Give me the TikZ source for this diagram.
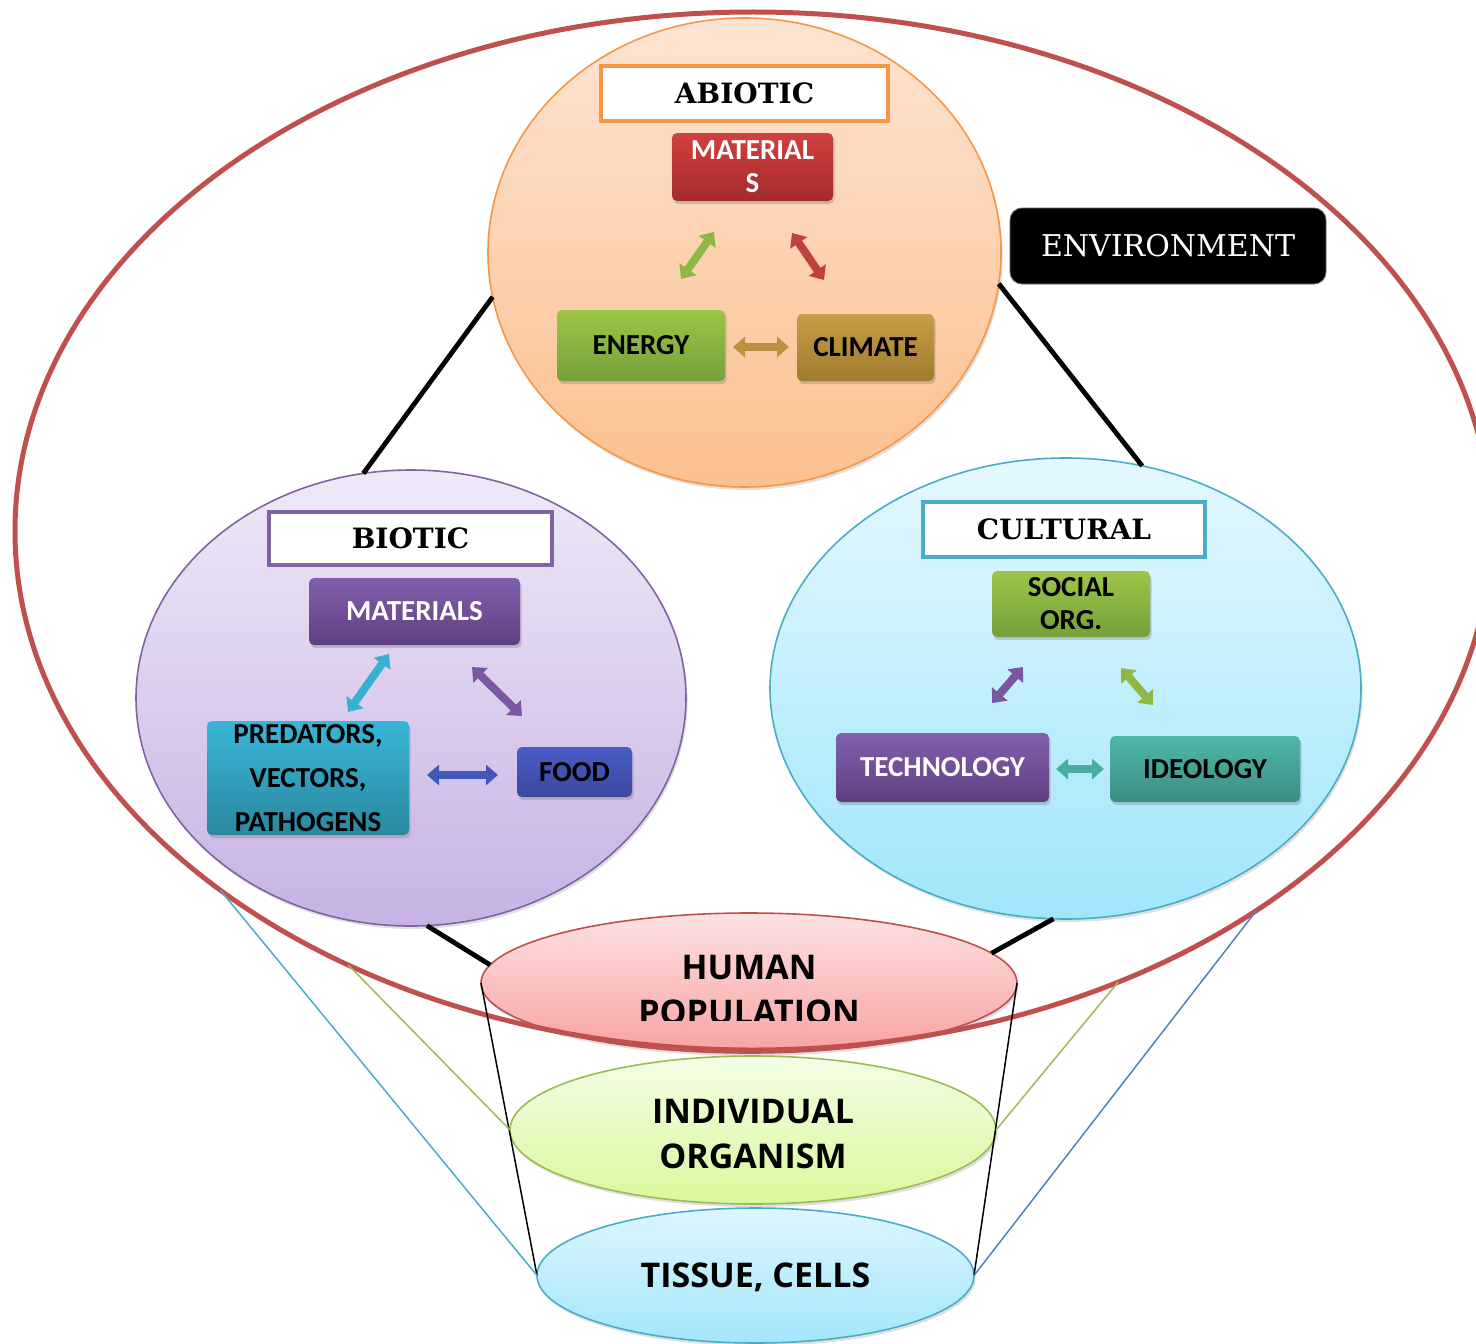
\documentclass[tikz,border=0pt]{standalone}
\usepackage{fontspec}
\setmainfont{Carlito}
\newfontfamily\slabfont{DejaVu Serif}
\newfontfamily\ellfont{Open Sans}
\usetikzlibrary{shapes.geometric,arrows.meta,shadows}

\definecolor{envred}{HTML}{C0504D}
\definecolor{abioborder}{HTML}{F79646}
\definecolor{abiotop}{HTML}{FDE4D2}
\definecolor{abiobot}{HTML}{FCC08E}
\definecolor{bioborder}{HTML}{8064A2}
\definecolor{biotop}{HTML}{EFE9F7}
\definecolor{biobot}{HTML}{C6B2E4}
\definecolor{culborder}{HTML}{4BACC6}
\definecolor{cultop}{HTML}{E4F8FE}
\definecolor{culbot}{HTML}{A0E6FB}
\definecolor{humtop}{HTML}{FDE2E2}
\definecolor{humbot}{HTML}{F9A2A2}
\definecolor{indborder}{HTML}{9BBB59}
\definecolor{indtop}{HTML}{F4FDE6}
\definecolor{indbot}{HTML}{D8F99A}
\definecolor{tistop}{HTML}{DDF6FE}
\definecolor{tisbot}{HTML}{A3E6FB}
\definecolor{redtop}{HTML}{D2403E}
\definecolor{redbot}{HTML}{A22C2B}
\definecolor{grntop}{HTML}{9DC548}
\definecolor{grnbot}{HTML}{76A03A}
\definecolor{goldtop}{HTML}{C89D45}
\definecolor{goldbot}{HTML}{9F7B30}
\definecolor{purtop}{HTML}{8060AC}
\definecolor{purbot}{HTML}{603F80}
\definecolor{cyantop}{HTML}{38B6D8}
\definecolor{cyanbot}{HTML}{2A889F}
\definecolor{bluetop}{HTML}{4A5CC4}
\definecolor{bluebot}{HTML}{3A499E}
\definecolor{tealtop}{HTML}{4EB8A8}
\definecolor{tealbot}{HTML}{3C8E82}
\definecolor{arrgreen}{HTML}{8DB843}
\definecolor{arrred}{HTML}{C0403E}
\definecolor{arrgold}{HTML}{B8923E}
\definecolor{arrcyan}{HTML}{38B0D0}
\definecolor{arrpurple}{HTML}{7A58A0}
\definecolor{arrblue}{HTML}{4258B8}
\definecolor{arrteal}{HTML}{4AADA0}
\definecolor{lineblue}{HTML}{4F81BD}

\begin{document}
\begin{tikzpicture}[x=0.5pt,y=-0.5pt,
  bigell/.style={ellipse, inner sep=0pt, outer sep=0pt, draw, line width=0.8pt,
    drop shadow={opacity=0.25, shadow xshift=0.8pt, shadow yshift=-1.5pt}},
  hdrbox/.style={draw, fill=white, line width=1.8pt, inner sep=0pt,
    font=\slabfont\bfseries\fontsize{14}{16}\selectfont},
  itembox/.style={rounded corners=2.5pt, inner sep=0pt, align=center,
    font=\bfseries\fontsize{14.5}{16.5}\selectfont,
    drop shadow={opacity=0.35, shadow xshift=0.8pt, shadow yshift=-1.6pt}},
  dblarrow/.style={line width=4pt,
    {Triangle[width=10pt,length=6pt]}-{Triangle[width=10pt,length=6pt]}},
  link/.style={line width=2.4pt, black},
  thin/.style={line width=0.75pt},
  elltext/.style={align=center, font=\ellfont\bfseries\fontsize{17}{22.5}\selectfont}
]
\useasboundingbox (0,0) rectangle (1476,1343);

% three big circles
\node[bigell, draw=abioborder, top color=abiotop, bottom color=abiobot,
  minimum width=256.5pt, minimum height=234.5pt] (abiotic) at (744.5,252.5) {};
\node[bigell, draw=bioborder, top color=biotop, bottom color=biobot,
  minimum width=275pt, minimum height=228pt] (biotic) at (411,698) {};
\node[bigell, draw=culborder, top color=cultop, bottom color=culbot,
  minimum width=295.5pt, minimum height=230.5pt] (cultural) at (1065.5,688.5) {};

% lower nested ellipses
\node[bigell, draw=envred, top color=humtop, bottom color=humbot,
  minimum width=268pt, minimum height=70pt] (human) at (749,983) {};
\node[bigell, draw=indborder, top color=indtop, bottom color=indbot,
  minimum width=243pt, minimum height=74pt] (indiv) at (753,1130) {};
\node[bigell, draw=culborder, top color=tistop, bottom color=tisbot,
  minimum width=218.5pt, minimum height=67.5pt] (tissue) at (755.5,1275.5) {};

% environment ellipse
\node[ellipse, draw=envred, line width=2.5pt, inner sep=0pt, outer sep=0pt,
  minimum width=738pt, minimum height=519pt] (env) at (753,531) {};

% black connectors
\draw[link] (abiotic.190) -- (biotic.102);
\draw[link] (abiotic.353) -- (cultural.71);
\draw[link] (biotic.274) -- (human.176);
\draw[link] (cultural.267) -- (human.7);

% funnel lines
\draw[thin] (human.west) -- (tissue.west);
\draw[thin] (human.east) -- (tissue.east);
\draw[thin, draw=indborder] (env.227) -- (indiv.west);
\draw[thin, draw=indborder] (env.309) -- (indiv.east);
\draw[thin, draw=culborder] (env.214) -- (tissue.west);
\draw[thin, draw=lineblue] (env.323) -- (tissue.east);

% ellipse texts
\begin{scope}
  \clip (400,900) rectangle (1100,1020);
  \node[elltext] (humantext) at (749,990) {HUMAN\\POPULATION};
\end{scope}
\node[elltext] (indivtext) at (753,1134) {INDIVIDUAL\\ORGANISM};
\node[elltext] (tissuetext) at (755.5,1277) {TISSUE, CELLS};

% ENVIRONMENT label
\node[fill=black, draw=black!60, rounded corners=6pt, inner sep=0pt,
  minimum width=158pt, minimum height=38pt, text=white,
  font=\slabfont\fontsize{15}{17}\selectfont] (envlabel) at (1168,246) {ENVIRONMENT};

% ABIOTIC
\node[hdrbox, draw=abioborder, minimum width=143.5pt, minimum height=27.5pt] (abiohdr) at (744.5,93.5) {ABIOTIC};
\node[itembox, top color=redtop, bottom color=redbot, text=white,
  minimum width=80.5pt, minimum height=34pt] (abiomat) at (752.5,167) {MATERIAL\\S};
\node[itembox, top color=grntop, bottom color=grnbot,
  minimum width=84pt, minimum height=35.5pt] (energy) at (641,345.5) {ENERGY};
\node[itembox, top color=goldtop, bottom color=goldbot,
  minimum width=68.5pt, minimum height=33.5pt] (climate) at (865.5,347.5) {CLIMATE};
\coordinate (a1s) at (681,279); \coordinate (a1e) at (714,232);
\coordinate (a2s) at (792,233); \coordinate (a2e) at (824,280);
\coordinate (a3s) at (733,347); \coordinate (a3e) at (789,347);
\draw[dblarrow, arrgreen] (a1s) -- (a1e);
\draw[dblarrow, arrred] (a2s) -- (a2e);
\draw[dblarrow, arrgold] (a3s) -- (a3e);

% BIOTIC
\node[hdrbox, draw=bioborder, minimum width=141.5pt, minimum height=26.5pt] (biohdr) at (410.5,538.5) {BIOTIC};
\node[itembox, top color=purtop, bottom color=purbot, text=white,
  minimum width=105.5pt, minimum height=33.5pt] (biomat) at (414.5,611.5) {MATERIALS};
\node[itembox, top color=cyantop, bottom color=cyanbot,
  font=\bfseries\fontsize{14.5}{22}\selectfont,
  minimum width=101pt, minimum height=57pt] (pred) at (308,778) {PREDATORS,\\VECTORS,\\PATHOGENS};
\node[itembox, top color=bluetop, bottom color=bluebot,
  minimum width=57.5pt, minimum height=25pt] (food) at (574.5,772) {FOOD};
\coordinate (b1s) at (348,712); \coordinate (b1e) at (389,654);
\coordinate (b2s) at (472,667); \coordinate (b2e) at (522,716);
\coordinate (b3s) at (427,775); \coordinate (b3e) at (498,775);
\draw[dblarrow, arrcyan] (b1s) -- (b1e);
\draw[dblarrow, arrpurple] (b2s) -- (b2e);
\draw[dblarrow, arrblue] (b3s) -- (b3e);

% CULTURAL
\node[hdrbox, draw=culborder, minimum width=141pt, minimum height=27.5pt] (culhdr) at (1064,529.5) {CULTURAL};
\node[itembox, top color=grntop, bottom color=grnbot,
  minimum width=79pt, minimum height=33pt] (social) at (1071,604) {SOCIAL\\ORG.};
\node[itembox, top color=purtop, bottom color=purbot, text=white,
  minimum width=106.5pt, minimum height=34.5pt] (tech) at (942.5,767.5) {TECHNOLOGY};
\node[itembox, top color=tealtop, bottom color=tealbot,
  minimum width=95pt, minimum height=33pt] (ideo) at (1205,769) {IDEOLOGY};
\coordinate (c1s) at (992,703); \coordinate (c1e) at (1023,667);
\coordinate (c2s) at (1121,668); \coordinate (c2e) at (1153,705);
\coordinate (c3s) at (1056,769); \coordinate (c3e) at (1104,769);
\draw[dblarrow, arrpurple] (c1s) -- (c1e);
\draw[dblarrow, arrgreen] (c2s) -- (c2e);
\draw[dblarrow, arrteal] (c3s) -- (c3e);
\end{tikzpicture}
\end{document}
